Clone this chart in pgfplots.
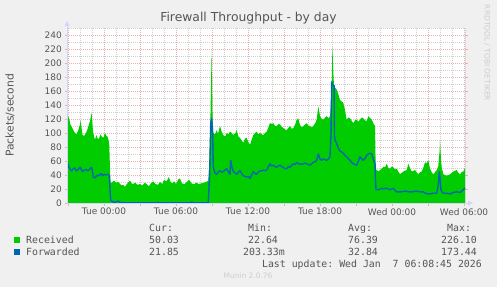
\documentclass[border=0pt]{standalone}
\usepackage{pgfplots}
\pgfplotsset{compat=1.18}
\usepackage{fontspec}
\setmainfont{DejaVu Sans}
\setmonofont{DejaVu Sans Mono}
\usetikzlibrary{arrows.meta}
\definecolor{bgc}{HTML}{F0F0F0}
\definecolor{rcv}{HTML}{00CC00}
\definecolor{fwd}{HTML}{0066B3}
\definecolor{axc}{HTML}{CFD6F8}
\definecolor{mgr}{HTML}{E8B0B0}
\definecolor{grd}{HTML}{D0D0D0}
\definecolor{fnt}{HTML}{555555}
\definecolor{lgt}{HTML}{CDCDCD}
\begin{document}
\begin{tikzpicture}
\fill[bgc] (0,0) rectangle (497bp,-287bp);
\begin{axis}[
  at={(67bp,-203bp)}, anchor=south west,
  scale only axis, width=398bp, height=175bp,
  xmin=-3.08, xmax=30.08, ymin=0, ymax=250,
  axis background/.style={fill=white},
  axis line style={draw=none},
  xtick={0,6,...,30},
  xticklabels={Tue 00:00,Tue 06:00,Tue 12:00,Tue 18:00,Wed 00:00,Wed 06:00},
  extra x ticks={-3,3,9,15,21,27}, extra x tick labels={},
  minor xtick={-3,-2,...,30},
  ytick={0,20,...,240},
  minor ytick={10,30,...,250},
  grid=both,
  major grid style={mgr, dash pattern=on 0.8bp off 1.2bp, line width=0.7bp},
  minor grid style={grd, dash pattern=on 0.8bp off 1.2bp, line width=0.7bp},
  tick align=outside, major tick length=2.5bp, minor tick length=0pt,
  xtick style={mgr, line width=0.8bp},
  ytick style={mgr, line width=0.8bp},
  ytick pos=both, xtick pos=bottom,
  yticklabel pos=left,
  /pgf/number format/assume math mode=true,
  tick label style={font=\fontsize{9}{10}\selectfont, text=fnt},
  yticklabel style={inner sep=0pt, xshift=-2.5bp},
  xticklabel style={inner sep=0pt, yshift=-2.5bp},
  clip=true,
]
\addplot[fill=rcv, draw=none] coordinates {
(-3.08,137) (-3.0,125) (-2.89,120) (-2.8,112) (-2.69,109) (-2.55,104) (-2.42,100) (-2.3,98) (-2.14,104) (-2.0,112) (-1.94,118) (-1.85,105) (-1.78,97) (-1.65,96) (-1.5,100) (-1.4,104) (-1.31,109) (-1.15,118) (-1.03,129) (-0.95,110) (-0.89,100) (-0.75,90) (-0.64,97) (-0.5,91) (-0.39,93) (-0.3,98) (-0.19,95) (-0.05,93) (0.08,100) (0.2,96) (0.28,95) (0.38,90) (0.44,83) (0.52,40) (0.56,28) (0.7,30) (0.85,32) (1.0,29) (1.19,30) (1.35,27) (1.47,25) (1.6,26) (1.75,23) (1.9,27) (2.05,30) (2.17,32) (2.3,28) (2.44,27) (2.6,29) (2.8,26) (3.0,27) (3.2,25) (3.4,29) (3.56,27) (3.75,24) (3.9,28) (4.11,31) (4.3,27) (4.5,26) (4.67,30) (4.85,27) (5.0,33) (5.22,31) (5.4,37) (5.55,30) (5.7,28) (5.85,31) (6.0,27) (6.2,34) (6.33,35) (6.5,28) (6.7,27) (6.9,30) (7.1,33) (7.3,28) (7.5,27) (7.7,29) (7.9,27) (8.1,28) (8.3,29) (8.5,30) (8.69,32) (8.8,60) (8.9,150) (8.97,218) (9.05,120) (9.11,100) (9.25,98) (9.39,104) (9.5,99) (9.67,110) (9.8,102) (9.94,97) (10.1,95) (10.22,100) (10.35,98) (10.5,102) (10.65,100) (10.78,97) (10.95,100) (11.06,104) (11.2,95) (11.33,93) (11.45,90) (11.61,86) (11.75,92) (11.89,93) (12.0,88) (12.17,83) (12.3,90) (12.44,97) (12.6,100) (12.72,102) (12.85,98) (13.0,100) (13.15,98) (13.28,97) (13.42,100) (13.56,102) (13.7,108) (13.83,114) (14.0,113) (14.11,114) (14.25,110) (14.39,110) (14.55,113) (14.67,112) (14.8,109) (14.94,107) (15.1,105) (15.22,104) (15.35,107) (15.5,110) (15.65,106) (15.78,107) (15.95,113) (16.06,119) (16.19,121) (16.33,112) (16.45,108) (16.61,110) (16.75,112) (16.89,114) (17.0,111) (17.17,110) (17.3,108) (17.44,110) (17.6,114) (17.72,119) (17.86,138) (18.0,124) (18.15,120) (18.28,119) (18.42,122) (18.56,124) (18.7,121) (18.83,124) (18.95,150) (19.03,224) (19.1,190) (19.17,166) (19.25,165) (19.39,162) (19.53,155) (19.67,147) (19.8,145) (19.94,143) (20.08,133) (20.22,119) (20.35,122) (20.5,121) (20.65,117) (20.78,114) (20.9,118) (21.06,119) (21.2,116) (21.33,119) (21.47,122) (21.61,121) (21.75,118) (21.89,117) (22.03,124) (22.17,121) (22.31,119) (22.44,114) (22.58,110) (22.63,60) (22.67,48) (22.86,45) (23.0,47) (23.14,49) (23.3,52) (23.42,51) (23.56,56) (23.7,50) (23.83,49) (23.97,52) (24.11,51) (24.25,48) (24.39,49) (24.55,44) (24.67,41) (24.8,43) (24.94,45) (25.08,46) (25.22,47) (25.36,56) (25.5,50) (25.64,45) (25.78,46) (25.92,47) (26.05,44) (26.19,41) (26.33,44) (26.47,45) (26.6,50) (26.75,58) (26.9,57) (27.03,61) (27.17,49) (27.3,44) (27.44,41) (27.58,44) (27.72,47) (27.85,52) (27.97,75) (28.0,90) (28.07,65) (28.14,51) (28.28,41) (28.42,40) (28.56,39) (28.7,40) (28.83,41) (28.97,43) (29.11,45) (29.25,46) (29.39,47) (29.53,43) (29.67,41) (29.8,44) (29.94,45) (30.08,50)
} \closedcycle;
\addplot[fwd, line width=1.4bp, line join=round] coordinates {
(-3.08,61) (-3.0,55) (-2.89,50) (-2.8,48) (-2.69,46) (-2.55,49) (-2.42,50) (-2.3,46) (-2.14,48) (-2.0,51) (-1.94,50) (-1.85,46) (-1.78,45) (-1.65,47) (-1.5,48) (-1.35,46) (-1.2,48) (-1.03,51) (-0.95,44) (-0.89,37) (-0.75,36) (-0.64,38) (-0.5,40) (-0.39,39) (-0.25,42) (-0.1,39) (0.0,41) (0.15,40) (0.3,41) (0.44,40) (0.5,20) (0.56,4) (0.7,2) (0.85,1) (1.0,1.5) (1.19,3) (1.3,1) (1.5,0.5) (2.0,0.3) (4.4,0.3) (4.5,1.2) (4.6,0.3) (7.2,0.3) (7.3,1.7) (7.4,0.3) (8.69,0.3) (8.8,40) (8.9,115) (8.97,121) (9.05,100) (9.11,51) (9.25,43) (9.39,41) (9.55,45) (9.67,46) (9.8,44) (9.94,45) (10.08,47) (10.22,49) (10.35,45) (10.5,41) (10.56,61) (10.65,52) (10.78,45) (10.92,43) (11.06,41) (11.2,44) (11.33,46) (11.47,42) (11.61,39) (11.75,38) (11.89,37) (12.03,38) (12.17,35) (12.3,40) (12.44,45) (12.6,42) (12.72,41) (12.85,44) (13.0,46) (13.15,46) (13.28,47) (13.42,46) (13.56,47) (13.7,52) (13.83,56) (13.97,53) (14.11,54) (14.25,52) (14.39,51) (14.53,53) (14.67,54) (14.8,52) (14.94,51) (15.08,49) (15.22,49) (15.36,52) (15.5,51) (15.64,54) (15.78,56) (15.92,55) (16.06,58) (16.19,56) (16.33,56) (16.47,55) (16.61,56) (16.75,57) (16.89,56) (17.03,55) (17.17,54) (17.3,56) (17.44,58) (17.58,59) (17.72,61) (17.86,70) (18.0,63) (18.14,61) (18.28,63) (18.42,62) (18.56,61) (18.7,63) (18.83,66) (18.92,100) (18.97,173) (19.06,168) (19.17,168) (19.21,95) (19.25,90) (19.39,85) (19.53,78) (19.67,74) (19.8,73) (19.94,71) (20.08,68) (20.22,66) (20.36,63) (20.5,61) (20.64,58) (20.78,56) (20.92,55) (21.06,54) (21.2,60) (21.33,66) (21.47,63) (21.61,61) (21.75,64) (21.89,68) (22.03,70) (22.17,71) (22.31,70) (22.44,63) (22.58,56) (22.63,30) (22.67,19) (22.86,19) (23.0,20) (23.14,21) (23.28,20) (23.42,21) (23.56,21) (23.7,20) (23.83,19) (23.97,20) (24.11,21) (24.25,18) (24.39,16) (24.53,16) (24.8,16) (25.1,17) (25.4,16) (25.7,16) (26.0,17) (26.3,16) (26.6,16) (26.75,14) (27.03,13) (27.17,13) (27.44,14) (27.72,14) (27.85,25) (27.94,45) (28.0,35) (28.07,20) (28.14,16) (28.28,14) (28.56,14) (28.83,13) (29.11,15) (29.39,16) (29.67,15) (29.94,19) (30.08,21.85)
};
\draw[gray!80!black, line width=1bp] (rel axis cs:1,0) -- (rel axis cs:1,1);
\end{axis}
% axes with arrows
\draw[axc, line width=1bp] (67bp,-203bp) -- (468bp,-203bp);
\fill[axc] (468bp,-200.5bp) -- (473bp,-203bp) -- (468bp,-205.5bp) -- cycle;
\draw[axc, line width=1bp] (67bp,-203bp) -- (67bp,-26bp);
\fill[axc] (64.5bp,-26bp) -- (67bp,-21bp) -- (69.5bp,-26bp) -- cycle;
% title and labels
\node[text=fnt, font=\fontsize{12.4}{14}\selectfont] at (248.5bp,-18bp) {Firewall Throughput - by day};
\node[text=fnt, font=\fontsize{10.8}{12}\selectfont, rotate=90] at (10bp,-115.5bp) {Packets/second};
\node[text=lgt, font=\fontsize{7.5}{8}\selectfont, rotate=-90] at (487bp,-53bp) {RRDTOOL / TOBI OETIKER};
\node[text=lgt, font=\fontsize{7.5}{8}\selectfont] at (248bp,-276bp) {Munin 2.0.76};
% legend
\begin{scope}[every node/.style={text=fnt, font=\ttfamily\fontsize{9.9}{11}\selectfont, inner sep=0pt, anchor=base west}]
\node at (149bp,-231bp) {Cur:};
\node at (248bp,-231bp) {Min:};
\node at (348bp,-231bp) {Avg:};
\node at (447bp,-231bp) {Max:};
\fill[rcv] (14bp,-237bp) rectangle (20bp,-243bp);
\node at (26bp,-243bp) {Received};
\node at (149bp,-243bp) {50.03};
\node at (248bp,-243bp) {22.64};
\node at (348bp,-243bp) {76.39};
\node at (441bp,-243bp) {226.10};
\fill[fwd] (14bp,-249bp) rectangle (20bp,-255bp);
\node at (26bp,-255bp) {Forwarded};
\node at (149bp,-255bp) {21.85};
\node at (243bp,-255bp) {203.33m};
\node at (348bp,-255bp) {32.84};
\node at (441bp,-255bp) {173.44};
\node[anchor=base east] at (482bp,-267bp) {Last update: Wed Jan\ \ 7 06:08:45 2026};
\end{scope}
\pgfresetboundingbox
\path[use as bounding box] (0,0) rectangle (497bp,-287bp);
\end{tikzpicture}
\end{document}
